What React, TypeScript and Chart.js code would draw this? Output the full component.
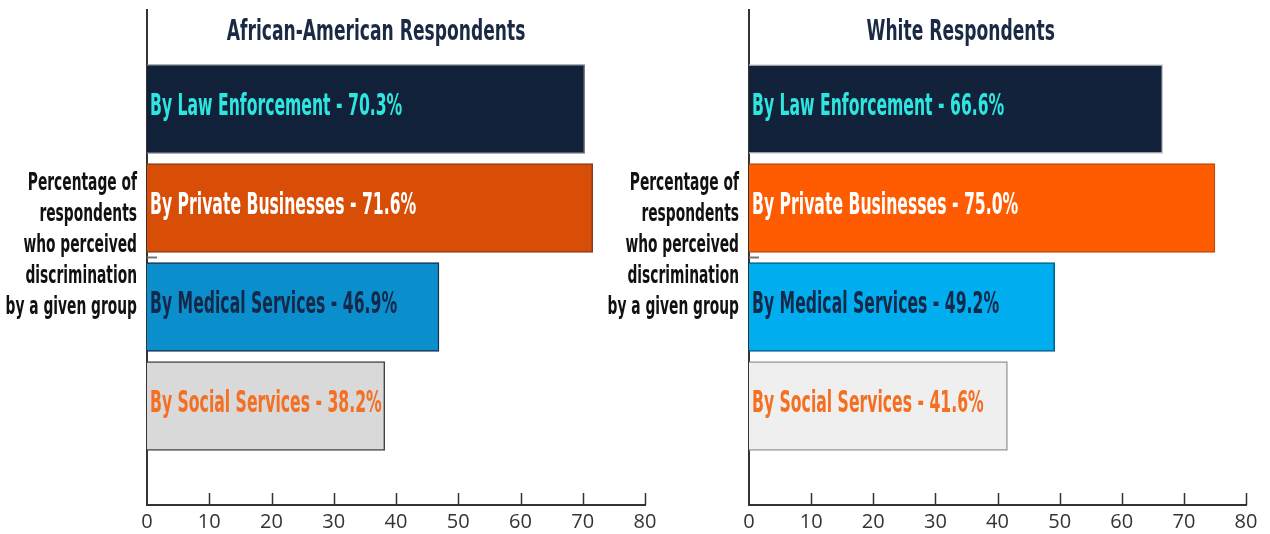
import { useEffect, useRef } from 'react';
import Chart from 'chart.js/auto';

// data
const categories = ['By Law Enforcement', 'By Private Businesses', 'By Medical Services', 'By Social Services'];
const africanAmericanValues = [70.3, 71.6, 46.9, 38.2];
const whiteValues = [66.6, 75.0, 49.2, 41.6];
const xTickValues = [0, 10, 20, 30, 40, 50, 60, 70, 80];
const axisTitleLines = ['Percentage of', 'respondents', 'who perceived', 'discrimination', 'by a given group'];

const CONDENSED = '"Liberation Sans Narrow", "DejaVu Sans Condensed", sans-serif';

interface PanelProps {
  title: string;
  titleCenter: number; // fraction of plot width
  values: number[];
  barColors: string[];
  borderColors: string[];
  labelColors: string[];
  left: number;
  padLeft: number;
  padRight: number;
}

function drawCondensed(
  ctx: CanvasRenderingContext2D,
  text: string,
  x: number,
  y: number,
  size: number,
  color: string,
  align: CanvasTextAlign,
  scaleX: number,
) {
  ctx.save();
  ctx.font = `bold ${size}px ${CONDENSED}`;
  ctx.fillStyle = color;
  ctx.textBaseline = 'middle';
  ctx.textAlign = align;
  ctx.translate(x, y);
  ctx.scale(scaleX, 1);
  ctx.fillText(text, 0, 0);
  ctx.restore();
}

function BarPanel(props: PanelProps) {
  const canvasRef = useRef<HTMLCanvasElement>(null);

  useEffect(() => {
    if (!canvasRef.current) return;
    const { title, titleCenter, values, barColors, borderColors, labelColors, padLeft, padRight } = props;

    // empty slots above and below the four bars
    const labels = ['', ...categories, ''];
    const data = [null, ...values, null];

    const decorations = {
      id: 'decorations',
      afterDraw(chart: Chart) {
        const ctx = chart.ctx;
        const area = chart.chartArea;
        const xScale = chart.scales.x;
        const yScale = chart.scales.y;

        // ticks pointing up into the plot
        ctx.save();
        ctx.strokeStyle = '#333';
        ctx.lineWidth = 1.5;
        xTickValues.forEach(v => {
          if (v === 0) return;
          const px = Math.round(xScale.getPixelForValue(v)) + 0.5;
          ctx.beginPath();
          ctx.moveTo(px, area.bottom);
          ctx.lineTo(px, area.bottom - 12);
          ctx.stroke();
        });
        // small dash at the middle of the y axis
        ctx.strokeStyle = '#777';
        ctx.lineWidth = 2;
        const mid = (area.top + area.bottom) / 2;
        ctx.beginPath();
        ctx.moveTo(area.left, mid);
        ctx.lineTo(area.left + 10, mid);
        ctx.stroke();
        ctx.restore();

        // labels inside the bars
        categories.forEach((cat, i) => {
          const cy = yScale.getPixelForValue(i + 1);
          drawCondensed(ctx, `${cat} - ${values[i].toFixed(1)}%`, area.left + 3, cy - 2, 30, labelColors[i], 'left', 0.58);
        });

        // title
        drawCondensed(ctx, title, area.left + area.width * titleCenter, 33, 28, '#1b2a44', 'center', 0.68);

        // axis title, to the left of the axis
        axisTitleLines.forEach((line, i) => {
          drawCondensed(ctx, line, area.left - 10, 184 + i * 31, 24, '#111', 'right', 0.64);
        });
      },
    };

    const chart = new Chart(canvasRef.current, {
      type: 'bar',
      data: {
        labels,
        datasets: [
          {
            data,
            backgroundColor: ['transparent', ...barColors, 'transparent'],
            borderColor: ['transparent', ...borderColors, 'transparent'],
            borderWidth: 1.5,
            barThickness: 89,
          },
        ],
      },
      options: {
        indexAxis: 'y',
        animation: false,
        responsive: false,
        maintainAspectRatio: false,
        layout: { padding: { left: padLeft, right: padRight, top: 10, bottom: 0 } },
        plugins: {
          legend: { display: false },
          tooltip: { enabled: false },
        },
        scales: {
          x: {
            type: 'linear',
            min: 0,
            max: 80,
            grid: { display: false, drawTicks: false },
            border: { display: true, color: '#333', width: 2 },
            ticks: {
              stepSize: 10,
              padding: 5,
              color: '#333',
              font: { family: '"Open Sans", sans-serif', size: 20 },
            },
            afterFit: (scale: any) => {
              scale.height = 29;
            },
          },
          y: {
            type: 'category',
            offset: false,
            grid: { display: false, drawTicks: false },
            border: { display: true, color: '#333', width: 2 },
            ticks: { display: false },
            afterFit: (scale: any) => {
              scale.width = 0;
            },
          },
        },
      },
      plugins: [decorations],
    });

    return () => {
      chart.destroy();
    };
  }, [props]);

  return (
    <canvas
      ref={canvasRef}
      width={665}
      height={534}
      style={{ position: 'absolute', top: 0, left: props.left, width: 665, height: 534 }}
    />
  );
}

export default function App() {
  return (
    <div style={{ position: 'absolute', top: 0, left: 0, width: 1270, height: 534, background: '#fff' }}>
      <BarPanel
        title="African-American Respondents"
        titleCenter={0.46}
        values={africanAmericanValues}
        barColors={['#11213a', '#d94e06', '#0b8fcc', '#d9d9d9']}
        borderColors={['#6b7280', '#8b3a1a', '#1a3050', '#444']}
        labelColors={['#2ee6df', '#ffffff', '#14284a', '#f36f21']}
        left={0}
        padLeft={147}
        padRight={20}
      />
      <BarPanel
        title="White Respondents"
        titleCenter={0.426}
        values={whiteValues}
        barColors={['#12223a', '#ff5b00', '#00aeef', '#efefef']}
        borderColors={['#c8c8c8', '#c04a10', '#005f8a', '#999']}
        labelColors={['#2ee6df', '#ffffff', '#14284a', '#f36f21']}
        left={605}
        padLeft={144}
        padRight={24}
      />
    </div>
  );
}
